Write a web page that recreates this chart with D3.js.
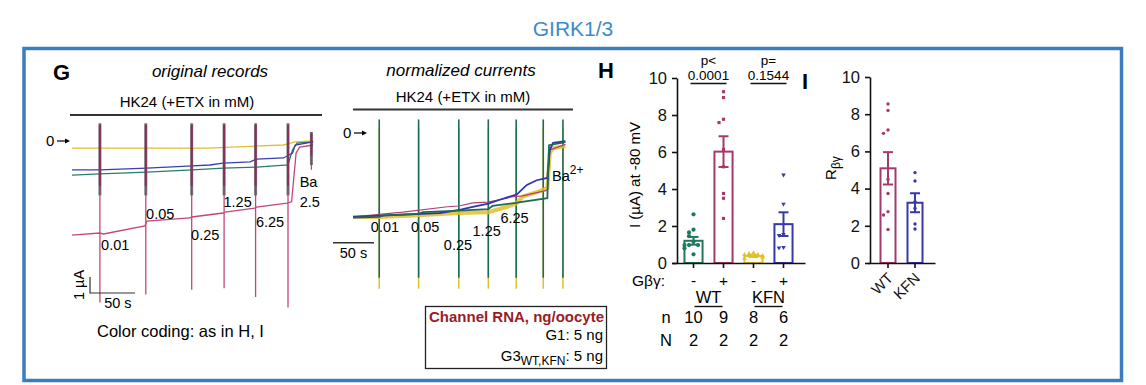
<!DOCTYPE html>
<html>
<head>
<meta charset="utf-8">
<script src="https://cdn.jsdelivr.net/npm/d3@7"></script>
<style>
  body { margin: 0; background: #fff; }
  svg { display: block; font-family: "Liberation Sans", Arial, sans-serif; }
</style>
</head>
<body>
<svg id="fig" width="1146" height="385"></svg>
<script>
// ---------- data ----------
// G, original records: [time (s), current (uA)]
let origPink = [[0,-5.88],[31,-5.75],[35,-5.81],[81,-5.31],[83,-5.0],[131,-4.81],[133,-4.75],[168,-4.5],[170,-4.44],[203,-4.19],[205,-4.13],[239,-3.88],[244,-3.8],[249,-0.75],[253,-0.38],[268,-0.25]];
let origBlue = [[0,-1.81],[31,-1.81],[83,-1.69],[134,-1.56],[153,-1.5],[168,-1.38],[198,-1.31],[205,-1.13],[235,-1.06],[245,-0.75],[248,-0.25],[268,-0.06]];
let origGreen = [[0,-2.13],[31,-2.06],[83,-1.94],[134,-1.81],[168,-1.69],[205,-1.63],[240,-1.5],[245,-0.56],[250,-0.13],[268,-0.06]];
let origYellow = [[0,-0.44],[150,-0.44],[235,-0.25],[248,-0.06],[268,0]];
let origSpikeTimes = [31, 82, 133, 169, 204, 240, 266];
let origPinkSpikeBottom = [-10.1, -9.6, -9.3, -9.2, -9.75, -10.4, -1.8];
let origSpikeTop = [1.1, 1.1, 1.1, 1.1, 1.1, 1.1, 0.56];
let origDarkSpikeBottom = [-3.4, -3.4, -3.4, -3.4, -3.4, -3.4, -1.5];
let origLabels = [["0.01", 48, -6.8], ["0.05", 98, -4.9], ["0.25", 148, -6.2], ["1.25", 184, -4.15], ["6.25", 220, -5.4]];

// G, normalized currents: [time (s), normalized current]
let normYellow = [[0,-1.05],[32,-1.05],[80,-1.03],[129,-1.0],[165,-0.99],[188,-0.92],[199,-0.88],[207,-0.79],[228,-0.72],[237,-0.68],[240,-0.23],[244,-0.17],[259,-0.14]];
let normPink = [[0,-1.05],[61,-0.99],[115,-0.92],[129,-0.91],[146,-0.87],[165,-0.86],[195,-0.79],[207,-0.78],[228,-0.73],[237,-0.71],[240,-0.19],[259,-0.12]];
let normBlue = [[0,-1.05],[106,-1.0],[130,-0.96],[146,-0.92],[165,-0.88],[179,-0.83],[200,-0.76],[204,-0.72],[212,-0.64],[224,-0.58],[237,-0.55],[240,-0.19],[244,-0.1],[259,-0.08]];
let normGreen = [[0,-1.06],[32,-1.05],[37,-1.03],[80,-1.01],[85,-0.99],[129,-0.97],[165,-0.95],[170,-0.91],[199,-0.87],[204,-0.86],[237,-0.81],[239,-0.13],[259,-0.09]];
let normSpikeTimes = [32, 80, 129, 165, 199, 232, 256];
let normLabels = [["0.01", 39, -1.24], ["0.05", 88, -1.24], ["0.25", 128, -1.48], ["1.25", 163, -1.29], ["6.25", 197, -1.13]];

// H
let barGroups = ["WT-", "WT+", "KFN-", "KFN+"];
let gbgSigns = ["-", "+", "-", "+"];
let barMeans = [1.2, 6.02, 0.38, 2.1];
let barSem = [0.21, 0.83, 0.06, 0.64];
let dotsWTminus = [2.63, 1.8, 1.65, 1.45, 1.15, 0.97, 0.97, 0.97, 0.8, 0.47];
let dotsWTplus = [9.26, 8.94, 7.77, 7.59, 6.14, 5.2, 3.76, 3.5, 2.41];
let dotsKFNminus = [0.55, 0.5, 0.45, 0.45, 0.4, 0.35, 0.3, 0.25];
let dotsKFNplus = [4.76, 3.19, 1.55, 1.5, 0.85, 0.82];
let nCells = ["10", "9", "8", "6"];
let nFrogs = ["2", "2", "2", "2"];
let hTicks = [0, 2, 4, 6, 8, 10];

// I
let iGroups = ["WT", "KFN"];
let iMeans = [5.09, 3.24];
let iSem = [0.87, 0.51];
let iDotsWT = [8.55, 8.2, 7.15, 6.97, 4.5, 3.74, 2.76, 2.58, 1.8];
let iDotsKFN = [4.86, 4.41, 3.3, 2.95, 2.1, 1.83];

// ---------- colours ----------
const cGreen = "#1f7a5c", cPink = "#a6396b", cYellow = "#e2c02a", cBlue = "#3739a8";
const cTitle = "#3a8ccb", cFrame = "#3b7dbf";

const svg = d3.select("#fig");

// title + frame
svg.append("text").attr("x", 573).attr("y", 36).attr("text-anchor", "middle")
  .attr("font-size", 21).attr("fill", cTitle).text("GIRK1/3");
svg.append("rect").attr("x", 24).attr("y", 48.5).attr("width", 1097.5).attr("height", 332)
  .attr("fill", "none").attr("stroke", cFrame).attr("stroke-width", 3.5);

function label(x, y, txt, size, opts) {
  let t = svg.append("text").attr("x", x).attr("y", y).attr("font-size", size).text(txt);
  if (opts) Object.keys(opts).forEach(k => t.attr(k, opts[k]));
  return t;
}
function zeroArrow(x, y) {
  label(x, y + 5, "0", 15);
  svg.append("line").attr("x1", x + 11).attr("x2", x + 21).attr("y1", y).attr("y2", y)
    .attr("stroke", "#000").attr("stroke-width", 1.2);
  svg.append("path").attr("d", `M${x + 24},${y} L${x + 19},${y - 2.5} L${x + 19},${y + 2.5} Z`).attr("fill", "#000");
}

// ---------- G: original records ----------
label(53, 80, "G", 22, { "font-weight": "bold" });
label(210, 77, "original records", 17, { "font-style": "italic", "text-anchor": "middle" });
label(187, 107, "HK24 (+ETX in mM)", 15, { "text-anchor": "middle" });
svg.append("line").attr("x1", 70).attr("x2", 322).attr("y1", 115).attr("y2", 115)
  .attr("stroke", "#333").attr("stroke-width", 1.8);
zeroArrow(46, 141);

let xO = d3.scaleLinear().domain([0, 268]).range([72, 313.2]);
let yO = d3.scaleLinear().domain([0, -10]).range([141, 301]);
let lineO = d3.line().x(d => xO(d[0])).y(d => yO(d[1]));

let gO = svg.append("g");
// pink thin spikes, full length
origSpikeTimes.forEach((t, i) => {
  gO.append("path").attr("d", lineO([[t, origSpikeTop[i]], [t, origPinkSpikeBottom[i]]]))
    .attr("stroke", "#c2477c").attr("stroke-width", 1.3).attr("fill", "none");
});
[[origYellow, cYellow], [origGreen, "#2a7d6a"], [origBlue, "#3a3fb0"], [origPink, "#c2477c"]].forEach(p => {
  gO.append("path").attr("d", lineO(p[0])).attr("fill", "none").attr("stroke", p[1]).attr("stroke-width", 1.3);
});
// dark overlapping spikes of all oocytes
origSpikeTimes.forEach((t, i) => {
  gO.append("path").attr("d", lineO([[t, origSpikeTop[i]], [t, origDarkSpikeBottom[i]]]))
    .attr("stroke", "#5c5560").attr("stroke-width", 3).attr("fill", "none").attr("opacity", 0.8);
  gO.append("path").attr("d", lineO([[t, origSpikeTop[i] - 0.1], [t, origDarkSpikeBottom[i] + 0.6]]))
    .attr("stroke", "#86305a").attr("stroke-width", 2).attr("fill", "none");
});
origLabels.forEach(l => label(xO(l[1]), yO(l[2]), l[0], 14.5, { "text-anchor": "middle" }));
label(xO(253), yO(-2.88), "Ba", 14.5);
label(xO(253), yO(-4.13), "2.5", 14.5);

// scale bar 1 uA / 50 s
gO.append("path").attr("d", lineO([[20, -8.5], [20, -9.5], [70, -9.5]]))
  .attr("fill", "none").attr("stroke", "#333").attr("stroke-width", 1.2);
label(84, 285, "1 µA", 14.5, { "text-anchor": "middle", transform: "rotate(-90,84,285)" });
label(xO(51), 308, "50 s", 14.5, { "text-anchor": "middle" });
label(97, 337, "Color coding: as in H, I", 16.5);

// ---------- G: normalized currents ----------
label(461, 76, "normalized currents", 17, { "font-style": "italic", "text-anchor": "middle" });
label(463, 102, "HK24 (+ETX in mM)", 15, { "text-anchor": "middle" });
svg.append("line").attr("x1", 353).attr("x2", 573).attr("y1", 109.5).attr("y2", 109.5)
  .attr("stroke", "#333").attr("stroke-width", 1.8);
zeroArrow(343, 133);

let xN = d3.scaleLinear().domain([0, 259]).range([353, 565.4]);
let yN = d3.scaleLinear().domain([0, -1]).range([135, 213]);
let lineN = d3.line().x(d => xN(d[0])).y(d => yN(d[1]));
let gN = svg.append("g");
normSpikeTimes.forEach(t => {
  gN.append("path").attr("d", lineN([[t, 0.1], [t, -1.97]])).attr("stroke", cYellow).attr("stroke-width", 1.5);
  gN.append("path").attr("d", lineN([[t, 0.2], [t, -1.83]])).attr("stroke", "#1d6b55").attr("stroke-width", 1.6);
});
gN.append("path").attr("d", lineN(normYellow)).attr("fill", "none").attr("stroke", cYellow)
  .attr("stroke-width", 4).attr("opacity", 0.85);
gN.append("path").attr("d", lineN(normPink)).attr("fill", "none").attr("stroke", "#b0407a").attr("stroke-width", 1.2);
gN.append("path").attr("d", lineN(normBlue)).attr("fill", "none").attr("stroke", "#3034b0").attr("stroke-width", 1.8);
gN.append("path").attr("d", lineN(normGreen)).attr("fill", "none").attr("stroke", "#1d6b55").attr("stroke-width", 1.8);
normLabels.forEach(l => label(xN(l[1]), yN(l[2]), l[0], 14.5, { "text-anchor": "middle" }));
let ba = label(552, 181, "Ba", 14.5);
ba.append("tspan").attr("dy", -7).attr("font-size", 12).text("2+");
gN.append("path").attr("d", lineN([[-24.4, -1.38], [25.6, -1.38]])).attr("stroke", "#333").attr("stroke-width", 1.5);
label(xN(0.6), 258, "50 s", 14.5, { "text-anchor": "middle" });

// legend box
svg.append("rect").attr("x", 425.5).attr("y", 306.5).attr("width", 181).attr("height", 62)
  .attr("fill", "none").attr("stroke", "#222").attr("stroke-width", 1.3);
label(604, 322, "Channel RNA, ng/oocyte", 15, { "text-anchor": "end", "font-weight": "bold", fill: "#9b1c1f" });
label(603, 340, "G1: 5 ng", 15, { "text-anchor": "end" });
let g3 = label(603, 361, "G3", 15, { "text-anchor": "end" });
g3.append("tspan").attr("dy", 4).attr("font-size", 12).text("WT,KFN");
g3.append("tspan").attr("dy", -4).text(": 5 ng");

// ---------- H ----------
label(598, 78, "H", 22, { "font-weight": "bold" });
let xH = d3.scaleBand().domain(barGroups).range([672, 805]).paddingInner(0.33).paddingOuter(0.382);
let yH = d3.scaleLinear().domain([0, 10]).range([263, 78]);
let barColors = [cGreen, cPink, cYellow, cBlue];
let hDots = [dotsWTminus, dotsWTplus, dotsKFNminus, dotsKFNplus];
let hSymbols = [d3.symbolCircle, d3.symbolSquare, d3.symbolTriangle, d3.symbolTriangle];
let hSizes = [14, 10, 9, 9];

function jitter(vals, tol, step) {
  return vals.map((v, i) => {
    let k = vals.slice(0, i).filter(u => Math.abs(u - v) < tol).length;
    return k === 0 ? 0 : (k % 2 ? -1 : 1) * Math.ceil(k / 2) * step;
  });
}

function barPanel(groups, means, sems, dots, colors, symbols, sizes, xs, ys, bw) {
  let g = svg.append("g");
  g.selectAll("rect.bar").data(groups).enter().append("rect")
    .attr("x", d => xs(d) + 1).attr("width", bw - 2)
    .attr("y", (d, i) => ys(means[i])).attr("height", (d, i) => ys(0) - ys(means[i]))
    .attr("fill", "#fff").attr("stroke", (d, i) => colors[i]).attr("stroke-width", 2);
  groups.forEach((grp, i) => {
    let cx = xs(grp) + xs.bandwidth() / 2;
    let js = jitter(dots[i], 0.2, 4.5);
    dots[i].forEach((v, j) => {
      let rot = (symbols[i] === d3.symbolTriangle && colors[i] === cBlue) ? " rotate(180)" : "";
      g.append("path").attr("d", d3.symbol().type(symbols[i]).size(sizes[i])())
        .attr("transform", `translate(${cx + js[j]},${ys(v)})${rot}`)
        .attr("fill", colors[i]);
    });
    let lo = ys(means[i] - sems[i]), hi = ys(means[i] + sems[i]);
    g.append("line").attr("x1", cx).attr("x2", cx).attr("y1", lo).attr("y2", hi)
      .attr("stroke", colors[i]).attr("stroke-width", 2);
    [lo, hi].forEach(yy => g.append("line").attr("x1", cx - 5).attr("x2", cx + 5).attr("y1", yy).attr("y2", yy)
      .attr("stroke", colors[i]).attr("stroke-width", 2));
  });
}
barPanel(barGroups, barMeans, barSem, hDots, barColors, hSymbols, hSizes, xH, yH, xH.bandwidth());

function styleAxis(g, size) {
  g.selectAll("path, line").attr("stroke", "#111").attr("stroke-width", 1.6);
  g.selectAll("text").attr("font-size", size).attr("fill", "#111")
    .attr("font-family", "'Liberation Sans', Arial, sans-serif");
}
let hy = svg.append("g").attr("transform", "translate(677,0)")
  .call(d3.axisLeft(yH).tickValues(hTicks).tickSize(5).tickSizeOuter(0).tickPadding(5));
styleAxis(hy, 16.5);
let hx = svg.append("g").attr("transform", "translate(0,263)")
  .call(d3.axisBottom(xH).tickSize(5).tickSizeOuter(0).tickFormat(""));
styleAxis(hx, 15);
label(640, 175, "I (µA) at -80 mV", 15, { "text-anchor": "middle", transform: "rotate(-90,640,175)" });

// p values
let pairs = [["p<", "0.0001", 0, 1], ["p=", "0.1544", 2, 3]];
pairs.forEach(p => {
  let x0 = xH(barGroups[p[2]]) + xH.bandwidth() / 2, x1 = xH(barGroups[p[3]]) + xH.bandwidth() / 2;
  let mx = (x0 + x1) / 2;
  label(mx, 65, p[0], 13.5, { "text-anchor": "middle" });
  label(mx, 80, p[1], 13.5, { "text-anchor": "middle" });
  svg.append("line").attr("x1", mx - 18).attr("x2", mx + 18).attr("y1", 83.5).attr("y2", 83.5)
    .attr("stroke", "#111").attr("stroke-width", 1.4);
});

// G beta gamma rows
label(665, 286, "Gβγ:", 15.5, { "text-anchor": "end" });
barGroups.forEach((grp, i) => {
  let cx = xH(grp) + xH.bandwidth() / 2;
  label(cx, 286, gbgSigns[i], 15.5, { "text-anchor": "middle" });
  label(cx, 323, nCells[i], 16.5, { "text-anchor": "middle" });
  label(cx, 346, nFrogs[i], 16.5, { "text-anchor": "middle" });
});
[["WT", 0, 1], ["KFN", 2, 3]].forEach(p => {
  let mx = (xH(barGroups[p[1]]) + xH(barGroups[p[2]]) + xH.bandwidth()) / 2;
  label(mx, 303, p[0], 16.5, { "text-anchor": "middle" });
  svg.append("line").attr("x1", mx - 14).attr("x2", mx + 14).attr("y1", 306.5).attr("y2", 306.5)
    .attr("stroke", "#111").attr("stroke-width", 1.4);
});
label(666, 323, "n", 16.5, { "text-anchor": "middle" });
label(666, 346, "N", 16.5, { "text-anchor": "middle" });

// ---------- I ----------
label(802, 89, "I", 22, { "font-weight": "bold" });
let xI = d3.scaleBand().domain(iGroups).range([868, 935]).paddingInner(0.37).paddingOuter(0.426);
let yI = d3.scaleLinear().domain([0, 10]).range([263, 77]);
barPanel(iGroups, iMeans, iSem, [iDotsWT, iDotsKFN], [cPink, cBlue],
  [d3.symbolCircle, d3.symbolCircle], [9, 9], xI, yI, xI.bandwidth());
let iy = svg.append("g").attr("transform", "translate(870,0)")
  .call(d3.axisLeft(yI).tickValues(hTicks).tickSize(5).tickSizeOuter(0).tickPadding(5));
styleAxis(iy, 16.5);
let ix = svg.append("g").attr("transform", "translate(0,263)")
  .call(d3.axisBottom(xI).tickSize(5).tickSizeOuter(0));
styleAxis(ix, 15);
ix.selectAll("text").attr("y", 0).attr("dy", null).attr("text-anchor", "end")
  .attr("transform", "translate(6,16) rotate(-45)");
let rl = label(836, 168, "R", 15, { "text-anchor": "middle", transform: "rotate(-90,836,168)" });
rl.append("tspan").attr("dy", 4).attr("font-size", 12).text("βγ");
</script>
</body>
</html>
